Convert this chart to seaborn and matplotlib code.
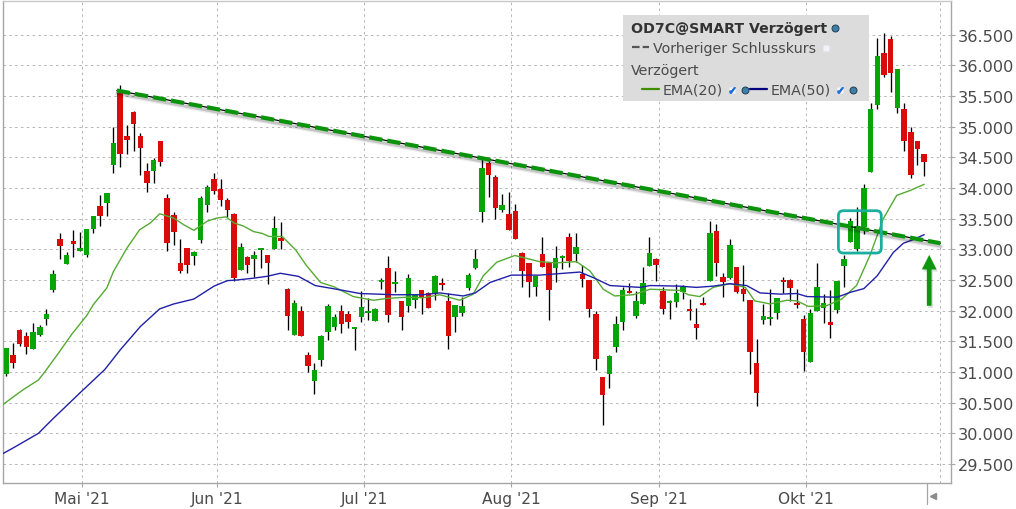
import matplotlib
matplotlib.use("Agg")
import matplotlib.pyplot as plt
import matplotlib.patheffects as pe
from matplotlib.patches import FancyBboxPatch, Rectangle
import numpy as np
import pandas as pd
import seaborn as sns

# prices, one entry per trading day
opens = [30.97,31.28,31.69,31.59,31.37,31.61,31.86,32.34,33.17,32.76,
33.13,32.98,32.90,33.34,33.71,33.75,34.38,35.55,34.85,35.24,
34.85,34.28,34.27,34.77,33.84,33.56,32.77,33.02,32.89,33.16,
33.73,34.15,33.99,33.81,33.57,32.66,32.88,32.85,32.99,32.90,
33.01,33.19,32.36,31.61,32.00,31.28,30.86,31.19,31.65,31.73,
32.00,31.95,31.70,31.89,31.97,31.83,32.47,32.70,32.44,32.16,
32.08,32.17,32.33,32.29,32.27,32.45,32.16,31.90,31.96,32.37,
32.70,33.61,34.41,34.18,33.64,33.58,33.63,32.94,32.78,32.38,
32.92,32.78,32.70,32.86,33.20,32.93,32.60,32.50,31.95,30.92,
30.96,31.40,31.82,32.32,31.91,32.11,32.73,32.84,32.32,32.13,32.14,
32.31,32.03,31.78,32.13,32.49,33.30,32.55,32.53,32.71,
32.35,32.17,31.15,31.85,31.87,31.97,32.50,32.50,32.13,31.87,
31.17,32.00,32.05,31.82,32.01,32.73,33.12,33.00,33.37,34.26,
35.35,36.20,36.43,35.31,35.29,34.91,34.77,34.56]
closes = [31.39,31.15,31.46,31.40,31.65,31.74,31.95,32.60,33.05,32.90,
33.08,33.03,33.34,33.55,33.55,33.92,34.74,34.55,34.79,35.05,
34.66,34.09,34.45,34.43,33.11,33.28,32.65,32.74,32.95,33.84,
34.01,33.95,33.80,33.64,32.54,33.04,32.74,32.90,33.02,32.77,
33.35,33.14,31.92,32.13,31.58,31.10,31.04,31.59,32.07,31.90,
31.79,31.82,31.73,32.06,32.00,32.03,32.50,31.93,32.47,31.89,
32.53,32.26,32.20,32.04,32.57,32.42,31.59,32.10,32.07,32.58,
32.84,34.32,34.22,33.68,33.72,33.32,33.17,32.65,32.47,32.57,
32.72,32.33,32.86,32.89,32.81,33.04,32.51,32.03,31.22,30.63,
31.26,31.78,32.34,32.29,32.16,32.45,32.94,32.75,32.03,32.16,32.29,
32.38,32.00,31.72,32.10,33.27,32.78,32.46,33.07,32.31,
32.28,31.32,30.66,31.91,31.90,32.21,32.47,32.37,32.10,31.33,
31.96,32.39,32.13,31.77,32.48,32.84,33.46,33.38,34.00,35.29,
36.15,35.84,35.88,35.94,34.77,34.21,34.64,34.42]
highs = [31.39,31.47,31.70,31.65,31.80,31.76,32.03,32.67,33.26,32.95,
33.32,33.28,33.34,33.55,33.89,33.92,35.00,35.68,35.03,35.25,
34.89,34.41,34.49,34.77,33.90,33.61,33.17,33.02,32.98,33.87,
34.05,34.25,34.15,33.84,33.59,33.11,32.89,32.98,33.02,32.90,
33.55,33.45,32.37,32.18,32.08,31.33,31.15,31.61,32.11,31.95,
32.09,32.00,31.73,32.32,32.20,32.05,32.54,32.89,32.65,32.16,
32.60,32.26,32.33,32.30,32.58,32.53,32.29,32.10,32.22,32.61,
33.01,34.47,34.47,34.21,33.90,33.93,33.74,32.95,32.78,32.57,
33.20,32.78,33.05,32.91,33.27,33.27,32.75,32.50,32.00,30.92,
31.28,31.91,32.39,32.45,32.32,32.71,33.20,32.86,32.39,32.17,32.43,
32.42,32.19,32.05,32.22,33.46,33.41,32.61,33.17,32.71,
32.75,32.17,31.54,32.11,32.35,32.21,32.55,32.52,32.35,31.93,
32.03,32.78,32.27,32.34,32.48,32.91,33.51,33.69,34.07,35.39,
36.45,36.53,36.48,35.94,35.39,35.00,34.77,34.56]
lows = [30.93,31.06,31.43,31.29,31.37,31.58,31.77,32.30,32.85,32.76,
32.87,32.98,32.87,33.26,33.38,33.54,34.24,34.34,34.56,34.61,
34.22,33.93,34.08,34.36,32.97,33.07,32.62,32.61,32.75,33.11,
33.61,33.91,33.71,33.53,32.48,32.66,32.62,32.55,32.70,32.43,
33.01,33.01,31.68,31.61,31.58,31.00,30.64,31.09,31.53,31.68,
31.64,31.72,31.36,31.82,31.85,31.83,32.36,31.82,32.30,31.69,
31.98,32.04,31.95,32.04,32.17,32.34,31.38,31.66,31.92,32.33,
32.68,33.44,33.85,33.50,33.61,33.32,33.17,32.38,32.23,32.24,
32.72,31.85,32.47,32.68,32.71,32.80,32.39,31.89,31.04,30.14,
30.74,31.32,31.69,32.29,31.88,32.11,32.73,32.49,31.95,31.86,32.06,
32.19,31.85,31.54,32.10,32.49,32.57,32.23,32.51,32.29,
32.16,30.97,30.45,31.78,31.77,31.87,32.29,32.16,32.05,31.02,
31.17,32.00,31.80,31.55,31.97,32.39,33.12,32.97,33.25,34.26,
35.29,35.81,35.57,35.22,34.60,34.16,34.38,34.20]

ema20_x = [-0.5,2.5,4.8,5.8,7.8,9.8,12,13,15,16,18,19.9,21.5,22.9,25,26.5,28,30,31.4,32.8,34,35.4,36.9,38.2,39.2,41.2,43.2,44.7,46.9,48.9,
49.8,51.8,54.8,56.8,59.8,62.2,64.7,67.7,69.7,71.2,73.2,75.9,79.6,82.1,85.1,87.1,89.1,90.8,93.6,96.1,
100.55,101.8,103.5,105.5,108,110.3,111.7,114,116.5,118,119.7,122.4,124.7,126.9,128.9,130.9,132.9,134.9,137]
ema20_y = [30.47,30.71,30.87,31.01,31.31,31.62,31.92,32.10,32.37,32.64,33.02,33.32,33.43,33.58,33.51,33.40,33.31,33.46,33.51,33.53,33.43,33.38,33.29,33.26,33.21,33.21,32.99,32.75,32.46,32.39,
32.34,32.23,32.17,32.20,32.22,32.21,32.26,32.17,32.27,32.57,32.79,32.90,32.80,32.78,32.80,32.65,32.35,32.24,32.26,32.35,
32.33,32.26,32.23,32.38,32.44,32.38,32.16,32.11,32.17,32.16,32.07,32.08,32.19,32.41,32.90,33.50,33.88,33.96,34.06]

ema50_x = [-0.5,1,4.8,6.8,11,14.7,17,20,22.9,25,28,31,33,34.4,36.9,38.9,40.9,43.6,46.1,49.8,
52.8,57.8,62.2,64.7,68.2,70,72.2,75.4,79.6,85.6,87.6,90.1,94.6,96.1,100.55,
103,105.5,108,110.5,112.5,115.5,118,119.5,124,126,128,130,132.4,133.9,135.4,137]
ema50_y = [29.67,29.76,30.00,30.22,30.66,31.04,31.36,31.74,32.03,32.11,32.19,32.40,32.49,32.50,32.53,32.56,32.61,32.56,32.41,32.34,
32.28,32.26,32.26,32.29,32.24,32.29,32.46,32.58,32.58,32.63,32.54,32.41,32.38,32.41,32.40,
32.38,32.40,32.44,32.41,32.29,32.27,32.28,32.23,32.22,32.30,32.36,32.57,32.95,33.10,33.16,33.24]

trend_x = [16.5, 139.4]
trend_y = [35.59, 33.10]

month_pos = [11.34, 31.4, 53.4, 75.4, 97.4, 119.4]
month_labels = ["Mai '21", "Jun '21", "Jul '21", "Aug '21", "Sep '21", "Okt '21"]
price_ticks = [29.5, 30, 30.5, 31, 31.5, 32, 32.5, 33, 33.5, 34, 34.5, 35, 35.5, 36, 36.5]
price_labels = ["29.500", "30.000", "30.500", "31.000", "31.500", "32.000", "32.500", "33.000",
                "33.500", "34.000", "34.500", "35.000", "35.500", "36.000", "36.500"]

GREEN = "#08A508"
RED = "#D90B0B"
GRID = "#B4B4B4"
FRAME = "#A6A6A6"
TXT = "#4A4A4A"

sns.set_style("white")
W, H = 1016, 510
fig = plt.figure(figsize=(W / 100, H / 100), dpi=100)
ax = fig.add_axes([2.5 / W, 1 - 484 / H, (950.7 - 2.5) / W, (484 - 2) / H])

df = pd.DataFrame({"open": opens, "high": highs, "low": lows, "close": closes})
df["idx"] = np.arange(len(df))
df["color"] = np.where(df["close"] >= df["open"], GREEN, RED)

# grid
for p in price_ticks:
    ax.axhline(p, color=GRID, lw=0.7, ls=(0, (2.5, 3.5)), zorder=1)
for m in month_pos + [139.4]:
    ax.axvline(m, color=GRID, lw=0.7, ls=(0, (2.5, 3.5)), zorder=1)

# candles
ax.vlines(df["idx"], df["low"], df["high"], color="black", lw=0.95, zorder=3)
ax.bar(df["idx"], (df["close"] - df["open"]).abs(), bottom=df[["open", "close"]].min(axis=1),
       width=0.82, color=df["color"], linewidth=0, zorder=4)

# moving averages
sns.lineplot(x=ema20_x, y=ema20_y, color="#55AA33", lw=1.0, ax=ax, zorder=5, estimator=None, sort=False)
sns.lineplot(x=ema50_x, y=ema50_y, color="#2020A8", lw=1.0, ax=ax, zorder=5, estimator=None, sort=False)

# trendline with shadow
ax.plot(trend_x, trend_y, color="black", lw=0.9, zorder=6,
        path_effects=[pe.SimpleLineShadow(offset=(0.3, -2.4), shadow_color="#000000", alpha=0.08, linewidth=3.4),
                      pe.SimpleLineShadow(offset=(0.3, -2.2), shadow_color="#000000", alpha=0.16, linewidth=2),
                      pe.Normal()])
ax.plot(trend_x, trend_y, color="#0B930B", lw=3.0, ls=(0, (3.2, 1.2)), dash_capstyle="butt", zorder=7)

# teal box around the breakout
box = FancyBboxPatch((124.2, 32.94), 6.4, 0.69,
                     boxstyle="round,pad=0,rounding_size=0.75", mutation_aspect=0.109,
                     fc="none", ec="#1AAE9E", lw=2.0, zorder=8)
ax.add_patch(box)

# green arrow
arrow = ax.annotate("", xy=(137.75, 32.91), xytext=(137.75, 32.08),
                    arrowprops=dict(width=3.4, headwidth=10.6, headlength=10.5, shrink=0,
                                    fc="#0E960E", ec="#0E960E", lw=0,
                                    path_effects=[pe.withSimplePatchShadow(offset=(1, -1.5), alpha=0.15)]),
                    zorder=8)

ax.set_xlim(-0.567, 140.96)
ax.set_ylim(29.19, 37.05)
ax.yaxis.tick_right()
ax.set_yticks(price_ticks)
ax.set_yticklabels(price_labels, fontsize=11.6, color=TXT)
ax.set_xticks(month_pos)
ax.set_xticklabels(month_labels, fontsize=11.1, color=TXT)
ax.tick_params(axis="both", length=3, width=0.8, color=FRAME, bottom=True, right=True)
ax.tick_params(axis="y", pad=2)
ax.tick_params(axis="x", pad=3)
for s in ax.spines.values():
    s.set_color(FRAME)
    s.set_linewidth(1.0)
    s.set_visible(True)
ax.spines["top"].set_color("#C8C8C8")

# overlay in pixel coordinates for the legend panel
ov = fig.add_axes([0, 0, 1, 1], facecolor="none")
ov.set_xlim(0, W)
ov.set_ylim(H, 0)
ov.axis("off")
ov.add_patch(Rectangle((622.7, 16), 246.3, 85.7, fc="#DCDCDC", ec="none"))
ov.text(631, 29, "OD7C@SMART Verzögert", fontsize=10.2, fontweight="bold", color="#333333", va="center")
ov.text(653, 49, "Vorheriger Schlusskurs", fontsize=10.3, color=TXT, va="center")
ov.text(631, 71, "Verzögert", fontsize=10.3, color=TXT, va="center")
ov.text(663, 90.5, "EMA(20)", fontsize=10.3, color=TXT, va="center")
ov.text(771, 90.5, "EMA(50)", fontsize=10.3, color=TXT, va="center")
ov.plot([631.7, 649], [48, 48], color="#555555", lw=1.6, ls=(0, (3.4, 1.4)))
ov.plot([642, 659], [90, 90], color="#3E8E00", lw=1.6)
ov.plot([750, 767], [90, 90], color="#000080", lw=1.6)
# little status icons of the panel
ov.plot([835, 745, 853], [28.5, 90.5, 90.5], ls="none", marker="o", ms=5, mfc="#3F7FA6", mec="#1F3F55", mew=0.7)
ov.plot([732, 840], [90.5, 90.5], ls="none", marker="s", ms=5, mfc="#F4F6FA", mec="none")
ov.plot([732, 840], [90.5, 90.5], ls="none", marker="$\u2713$", ms=4, color="#1E6FD8")
ov.plot([826], [49], ls="none", marker="s", ms=5, mfc="#F2F2FA", mec="none")
# end of the time axis
ov.plot([927.3, 927.3], [484, 505], color=FRAME, lw=0.9)
ov.plot([932.7], [497], ls="none", marker="<", ms=4.5, color="#8C8C8C")

fig.savefig("out.png", dpi=100)
